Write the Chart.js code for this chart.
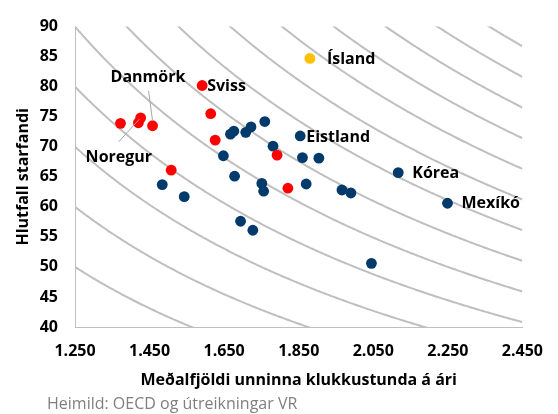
<!DOCTYPE html>
<html>
<head>
<meta charset="utf-8">
<script src="https://cdn.jsdelivr.net/npm/chart.js"></script>
<style>
  html, body { margin: 0; padding: 0; background: #fff; }
  #wrap { position: relative; width: 558px; height: 414px; }
</style>
</head>
<body>
<div id="wrap"><canvas id="chart" width="558" height="414"></canvas></div>
<script>
// ===== データ =====
// Norðurlönd o.fl. (rauð)
const redHours = [1372, 1420, 1426, 1458, 1591, 1614, 1626, 1508, 1792, 1821];
const redRate  = [73.9, 74.0, 74.8, 73.5, 80.2, 75.5, 71.1, 66.1, 68.6, 63.1];
// Ísland (gul)
const icelandHours = [1880];
const icelandRate  = [84.7];
// Önnur OECD ríki (blá)
const blueHours = [1759, 1676, 1667, 1722, 1708, 1781, 1648, 1678, 1751, 1756, 1484, 1543,
                   1694, 1727, 1854, 1860, 1904, 1870, 1966, 1990, 2045, 2117, 2249];
const blueRate  = [74.2, 72.6, 72.1, 73.3, 72.4, 70.1, 68.5, 65.1, 63.9, 62.6, 63.7, 61.7,
                   57.6, 56.1, 71.8, 68.2, 68.1, 63.8, 62.8, 62.3, 50.6, 65.7, 60.6];
// Jafngildislínur: heildarstundir á mann (klst x hlutfall)
const isoTotals = [62500, 75000, 87500, 100000, 112500, 125000, 137500,
                   150000, 162500, 175000, 187500, 200000, 212500];
// Ás
const xTicks = [1250, 1450, 1650, 1850, 2050, 2250, 2450];
const yTicks = [40, 45, 50, 55, 60, 65, 70, 75, 80, 85, 90];
// Merkingar: [nafn, gagnaröð, vísir]
const labelNames  = ['Danmörk', 'Noregur', 'Sviss', 'Ísland', 'Eistland', 'Kórea', 'Mexíkó'];
const labelSeries = [0, 0, 0, 1, 2, 2, 2];
const labelIndex  = [3, 2, 4, 0, 14, 21, 22];

const FONT = '"Open Sans", "DejaVu Sans", sans-serif';

function toPoints(xs, ys) {
    return xs.map((x, i) => ({ x: x, y: ys[i] }));
}

// ===== jafngildisferlar =====
const isoPlugin = {
    id: 'isoCurves',
    beforeDatasetsDraw(chart) {
        const { ctx, chartArea, scales } = chart;
        const xs = scales.x, ys = scales.y;
        ctx.save();
        ctx.beginPath();
        ctx.rect(chartArea.left, chartArea.top, chartArea.right - chartArea.left, chartArea.bottom - chartArea.top);
        ctx.clip();
        ctx.strokeStyle = '#bfbfbf';
        ctx.lineWidth = 2;
        for (const c of isoTotals) {
            ctx.beginPath();
            let first = true;
            for (let h = xs.min; h <= xs.max; h += 4) {
                const px = xs.getPixelForValue(h);
                const py = ys.getPixelForValue(c / h);
                if (first) { ctx.moveTo(px, py); first = false; } else { ctx.lineTo(px, py); }
            }
            ctx.stroke();
        }
        ctx.restore();
    }
};

// ===== merkingar =====
const labelStyle = {
    'Danmörk':  { dx: -42, dy: -48, lead: [[-4, -35], [0, -5]] },
    'Noregur':  { dx: -55, dy: 40,  lead: [[-22, 24], [-1, 1]] },
    'Sviss':    { dx: 5,   dy: 1 },
    'Ísland':   { dx: 17,  dy: 1 },
    'Eistland': { dx: 6,   dy: 1 },
    'Kórea':    { dx: 14,  dy: 1 },
    'Mexíkó':   { dx: 14,  dy: 0 }
};

const labelPlugin = {
    id: 'pointLabels',
    afterDatasetsDraw(chart) {
        const { ctx } = chart;
        ctx.save();
        ctx.font = 'bold 16px ' + FONT;
        ctx.textAlign = 'left';
        ctx.textBaseline = 'middle';
        labelNames.forEach((name, i) => {
            const el = chart.getDatasetMeta(labelSeries[i]).data[labelIndex[i]];
            const st = labelStyle[name];
            if (st.lead) {
                ctx.strokeStyle = '#a6a6a6';
                ctx.lineWidth = 1;
                ctx.beginPath();
                ctx.moveTo(el.x + st.lead[0][0], el.y + st.lead[0][1]);
                ctx.lineTo(el.x + st.lead[1][0], el.y + st.lead[1][1]);
                ctx.stroke();
            }
            ctx.fillStyle = '#000';
            ctx.fillText(name, el.x + st.dx, el.y + st.dy);
        });
        // heimild
        ctx.font = '16px ' + FONT;
        ctx.fillStyle = '#7f7f7f';
        ctx.textBaseline = 'middle';
        ctx.fillText('Heimild: OECD og útreikningar VR', 47, 404);
        ctx.restore();
    }
};

const chart = new Chart(document.getElementById('chart'), {
    type: 'scatter',
    data: {
        datasets: [
            { label: 'Norðurlönd', data: toPoints(redHours, redRate), backgroundColor: '#ff0000', borderWidth: 0, pointRadius: 5.4 },
            { label: 'Ísland', data: toPoints(icelandHours, icelandRate), backgroundColor: '#ffc000', borderWidth: 0, pointRadius: 5.4 },
            { label: 'OECD', data: toPoints(blueHours, blueRate), backgroundColor: '#013a6b', borderWidth: 0, pointRadius: 5.4 }
        ]
    },
    options: {
        responsive: false,
        animation: false,
        events: [],
        layout: { padding: { top: 20, right: 29.5, left: 0, bottom: 0 } },
        plugins: {
            legend: { display: false },
            tooltip: { enabled: false }
        },
        scales: {
            x: {
                type: 'linear',
                min: xTicks[0],
                max: xTicks[xTicks.length - 1],
                afterBuildTicks: (s) => { s.ticks = xTicks.map(v => ({ value: v })); },
                afterFit: (s) => { s.height = 87; },
                grid: { display: false, drawTicks: false },
                border: { display: true, color: '#bfbfbf', width: 1 },
                ticks: {
                    padding: 15,
                    color: '#000',
                    font: { family: FONT, size: 16, weight: 'bold' },
                    callback: (v) => String(v).replace(/\B(?=(\d{3})+(?!\d))/g, '.')
                },
                title: {
                    display: true,
                    text: 'Meðalfjöldi unninna klukkustunda á ári',
                    color: '#000',
                    font: { family: FONT, size: 16, weight: 'bold' },
                    padding: { top: 0, bottom: 24 }
                }
            },
            y: {
                type: 'linear',
                min: yTicks[0],
                max: yTicks[yTicks.length - 1],
                afterBuildTicks: (s) => { s.ticks = yTicks.map(v => ({ value: v })); },
                afterFit: (s) => { s.width = 75; },
                grid: { display: false, drawTicks: false },
                border: { display: true, color: '#bfbfbf', width: 1 },
                ticks: {
                    padding: 17,
                    color: '#000',
                    font: { family: FONT, size: 16, weight: 'bold' }
                },
                title: {
                    display: true,
                    text: 'Hlutfall starfandi',
                    color: '#000',
                    font: { family: FONT, size: 16, weight: 'bold' },
                    padding: { top: 14, bottom: 0 }
                }
            }
        }
    },
    plugins: [isoPlugin, labelPlugin]
});
</script>
</body>
</html>
